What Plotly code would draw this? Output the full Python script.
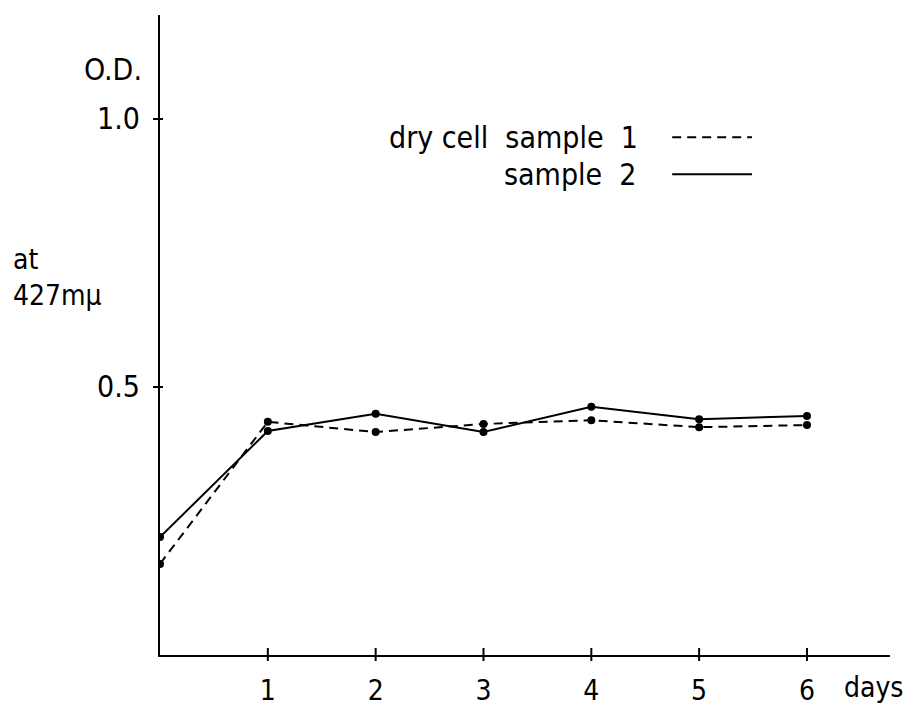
import plotly.graph_objects as go

days = [0, 1, 2, 3, 4, 5, 6]
sample1 = [0.170, 0.435, 0.416, 0.431, 0.438, 0.425, 0.429]
sample2 = [0.220, 0.418, 0.450, 0.416, 0.463, 0.440, 0.446]
x_ticks = [1, 2, 3, 4, 5, 6]
x_ticklabels = ["1", "2", "3", "4", "5", "6"]
y_ticks = [0.5, 1.0]
y_ticklabels = ["0.5", "1.0"]

FONT = "DejaVu Sans Condensed, Liberation Sans Narrow, DejaVu Sans, sans-serif"
fs = 30

fig = go.Figure()
fig.add_trace(go.Scatter(x=days, y=sample1, mode="lines+markers",
                         line=dict(color="black", width=2, dash="9px,6px"),
                         marker=dict(color="black", size=8), name="dry cell sample 1"))
fig.add_trace(go.Scatter(x=days, y=sample2, mode="lines+markers",
                         line=dict(color="black", width=2),
                         marker=dict(color="black", size=8), name="sample 2"))

shapes = []
for v in x_ticks:
    shapes.append(dict(type="line", xref="x", yref="paper", ysizemode="pixel", yanchor=0,
                       x0=v, x1=v, y0=-6, y1=7, line=dict(color="black", width=2)))
for v in y_ticks:
    shapes.append(dict(type="line", xref="paper", xsizemode="pixel", xanchor=0, yref="y",
                       x0=-7, x1=3, y0=v, y1=v, line=dict(color="black", width=2)))
# legend line samples
shapes.append(dict(type="line", xref="x", yref="y", x0=4.75, x1=5.49, y0=0.966, y1=0.966,
                   line=dict(color="black", width=2, dash="9px,6px")))
shapes.append(dict(type="line", xref="x", yref="y", x0=4.75, x1=5.49, y0=0.897, y1=0.897,
                   line=dict(color="black", width=2)))

annotations = [
    dict(text="O.D.", xref="paper", x=0, xanchor="right", xshift=-16, yref="y", y=1.093,
         yanchor="middle", showarrow=False),
    dict(text="at<br>427mμ", xref="paper", x=0, xanchor="left", xshift=-149, yref="y",
         y=0.705, yanchor="middle", align="left", showarrow=False,
         font=dict(family=FONT, size=28, color="black")),
    dict(text="days", xref="x", x=6.62, xanchor="center", yref="paper", y=0, yshift=-32,
         yanchor="middle", showarrow=False, font=dict(family=FONT, size=28, color="black")),
    dict(text="dry cell  sample  1", xref="x", x=4.45, xanchor="right", yref="y", y=0.965,
         yanchor="middle", showarrow=False),
    dict(text="sample  2", xref="x", x=4.43, xanchor="right", yref="y", y=0.897,
         yanchor="middle", showarrow=False),
]

fig.update_layout(
    width=914, height=706,
    margin=dict(l=160, r=24, t=15, b=51),
    plot_bgcolor="white", paper_bgcolor="white",
    showlegend=False,
    font=dict(family=FONT, size=fs, color="black"),
    shapes=shapes, annotations=annotations,
    xaxis=dict(range=[0, 6.77], showgrid=False, zeroline=False, showline=True,
               linecolor="black", linewidth=2, ticks="", tickvals=x_ticks,
               ticktext=x_ticklabels, ticklabelstandoff=9, automargin=False,
               tickfont=dict(family=FONT, size=28, color="black")),
    yaxis=dict(range=[0, 1.194], showgrid=False, zeroline=False, showline=True,
               linecolor="black", linewidth=2, ticks="", tickvals=y_ticks,
               ticktext=y_ticklabels, ticklabelstandoff=12, automargin=False,
               tickfont=dict(family=FONT, size=fs, color="black")),
)

fig.write_html("out.html")
